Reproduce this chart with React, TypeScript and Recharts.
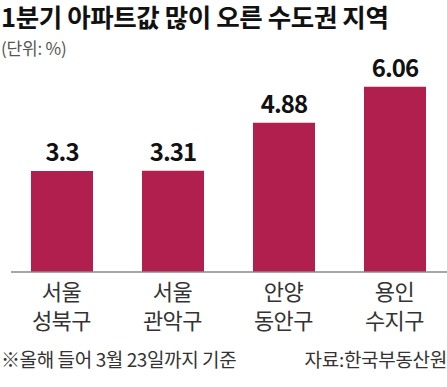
import React from 'react';
import { BarChart, Bar, XAxis, YAxis, LabelList } from 'recharts';

const categories = ['서울\n성북구', '서울\n관악구', '안양\n동안구', '용인\n수지구'];
const values = [3.3, 3.31, 4.88, 6.06];
const valueLabels = ['3.3', '3.31', '4.88', '6.06'];

const title = '1분기 아파트값 많이 오른 수도권 지역';
const unitText = '(단위: %)';
const footnote = '※올해 들어 3월 23일까지 기준';
const source = '자료:한국부동산원';

const data = categories.map((c, i) => ({ name: c, value: values[i], label: valueLabels[i] }));

const FONT = '"Noto Sans CJK KR", "Noto Sans", sans-serif';

const Tick = (props: any) => {
  const { x, y, payload } = props;
  const lines = String(payload.value).split('\n');
  return (
    <g>
      {lines.map((l, i) => (
        <text key={i} x={x} y={y + 28 + i * 29} textAnchor="middle" fill="#333" fontFamily={FONT} fontSize={22} letterSpacing={-0.5}>{l}</text>
      ))}
    </g>
  );
};

export default function App() {
  return (
    <div style={{ position: 'absolute', left: 0, top: 0, width: 447, height: 387, background: '#fff', fontFamily: FONT }}>
      <div style={{ position: 'absolute', left: 0, top: 0 }}>
        <BarChart width={447} height={387} data={data} margin={{ top: 58, right: 0, left: 11, bottom: 0 }}>
          <YAxis hide domain={[0, 7]} />
          <XAxis
            dataKey="name"
            height={115}
            axisLine={{ stroke: '#8a8a8a', strokeWidth: 1.5 }}
            tickLine={false}
            tickSize={0}
            tickMargin={0}
            padding={{ left: -5, right: -3 }}
            interval={0}
            tick={<Tick />}
          />
          <Bar dataKey="value" fill="#B11F4F" barSize={62} isAnimationActive={false}>
            <LabelList dataKey="label" position="top" offset={10} fill="#111" fontFamily={FONT} fontSize={24} fontWeight={600} letterSpacing={-1} />
          </Bar>
        </BarChart>
      </div>
      <div style={{ position: 'absolute', left: 1, top: 1, fontSize: 25.5, lineHeight: '30px', fontWeight: 700, letterSpacing: -0.4, color: '#111', whiteSpace: 'nowrap' }}>{title}</div>
      <div style={{ position: 'absolute', left: 1, top: 38, fontSize: 17, lineHeight: '20px', letterSpacing: -0.2, color: '#555', whiteSpace: 'nowrap' }}>{unitText}</div>
      <div style={{ position: 'absolute', left: 1, top: 347, fontSize: 19, lineHeight: '23px', letterSpacing: -0.4, color: '#333', whiteSpace: 'nowrap' }}>{footnote}</div>
      <div style={{ position: 'absolute', right: 0, top: 347, fontSize: 19, lineHeight: '23px', letterSpacing: -0.3, color: '#333', whiteSpace: 'nowrap' }}>{source}</div>
    </div>
  );
}
